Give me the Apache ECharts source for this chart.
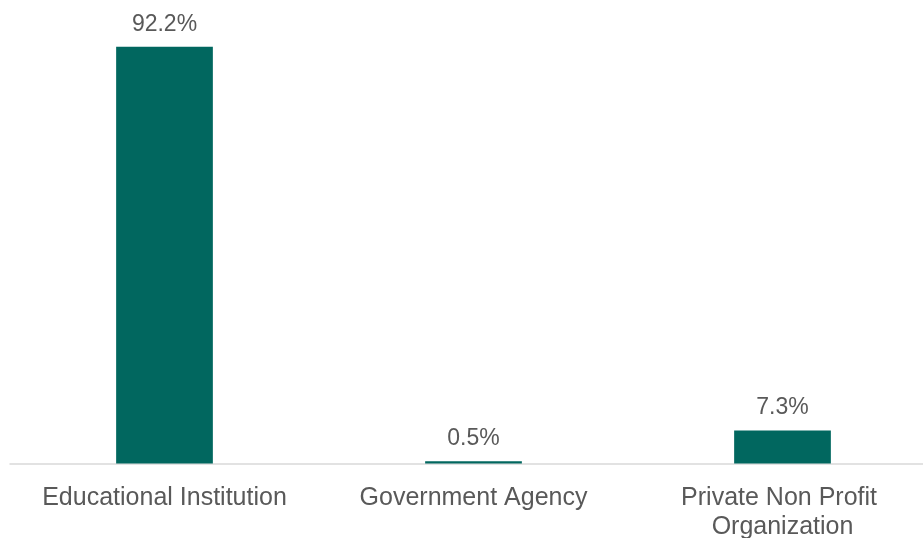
<!DOCTYPE html>
<html>
<head>
<meta charset="utf-8">
<script src="https://cdn.jsdelivr.net/npm/echarts@6/dist/echarts.min.js"></script>
<style>
  html, body { margin: 0; padding: 0; background: #ffffff; }
  #chart { width: 923px; height: 538px; }
</style>
</head>
<body>
<div id="chart"></div>
<script>
// Share of respondents by organization type (percent)
const categories = ["Educational Institution", "Government Agency", "Private Non Profit Organization"];
const shares = [92.2, 0.5, 7.3];

const chart = echarts.init(document.getElementById('chart'));
chart.setOption({
  animation: false,
  // plot area runs slightly past the right edge so the last band is cut off
  grid: {
    left: 10, width: 927, top: 11.5, height: 452,
    containLabel: false,
    outerBoundsMode: 'none'
  },
  xAxis: {
    type: 'category',
    data: categories,
    axisLine: { show: true, lineStyle: { color: '#d9d9d9', width: 1.5 } },
    axisTick: { show: false },
    axisLabel: {
      interval: 0,
      margin: 20,
      color: '#595959',
      fontFamily: 'Liberation Sans, Arial, sans-serif',
      fontSize: 25,
      lineHeight: 29,
      width: 290,
      overflow: 'break'
    }
  },
  yAxis: {
    type: 'value',
    min: 0,
    max: 100,
    show: false,
    splitLine: { show: false }
  },
  series: [{
    type: 'bar',
    data: shares,
    barWidth: '31.3%',
    itemStyle: { color: '#01675f' },
    label: {
      show: true,
      position: 'top',
      distance: 11,
      formatter: p => p.value.toFixed(1) + '%',
      color: '#595959',
      fontFamily: 'Liberation Sans, Arial, sans-serif',
      fontSize: 23
    }
  }]
});
</script>
</body>
</html>
